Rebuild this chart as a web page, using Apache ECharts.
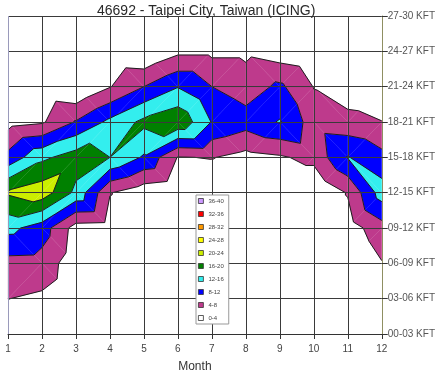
<!DOCTYPE html>
<html>
<head>
<meta charset="utf-8">
<title>46692 - Taipei City, Taiwan (ICING)</title>
<script src="https://cdn.jsdelivr.net/npm/echarts@6/dist/echarts.min.js"></script>
<style>
  html, body { margin: 0; padding: 0; background: #fff; }
  #chart { width: 438px; height: 378px; }
</style>
</head>
<body>
<div id="chart"></div>
<script>
// Months along the x axis
const months = [1, 2, 3, 4, 5, 6, 7, 8, 9, 10, 11, 12];

// Altitude bands along the y axis (bottom to top)
const kftLabels = ['00-03 KFT', '03-06 KFT', '06-09 KFT', '09-12 KFT', '12-15 KFT',
                   '15-18 KFT', '18-21 KFT', '21-24 KFT', '24-27 KFT', '27-30 KFT'];

// Icing frequency (%) for each altitude band, January to December
const kft00_03 = [1.5, 1, 0.5, 0, 0, 0, 0, 0, 0, 0, 0, 0];
const kft03_06 = [4.05, 3.3, 1, 0.5, 0, 0, 0, 0, 0, 0, 0, 0.5];
const kft06_09 = [6.6, 6.4, 1.5, 1, 0.5, 0, 0, 0, 0, 0, 0, 3.8];
const kft09_12 = [13.2, 10, 2.3, 2, 1, 0, 0, 0, 0, 0, 2, 6.4];
const kft12_15 = [20.5, 22.4, 15, 4.2, 1.5, 0.5, 0.3, 0, 0, 0, 4.3, 13.9];
const kft15_18 = [9.3, 15.1, 18, 16, 11.5, 3.8, 4.2, 2.6, 3.5, 5.2, 12.2, 9.2];
const kft18_21 = [2.5, 3.5, 8.3, 13, 17, 19.2, 11.8, 9.7, 12.3, 6, 5.4, 4.1];
const kft21_24 = [0.5, 1, 0, 3.8, 8, 11.8, 8, 6, 8.8, 3.85, 1.5, 1];
const kft24_27 = [0, 0, 0, 0.5, 0, 3.1, 3.1, 3.1, 1.65, 0.5, 0, 0];
const kft27_30 = [0, 0, 0, 0, 0, 0, 0, 0, 0, 0, 0, 0];

// Contour bands shown in the legend (top entry first)
const bandLabels = ['36-40', '32-36', '28-32', '24-28', '20-24', '16-20', '12-16', '8-12', '4-8', '0-4'];
const bandLow    = [36, 32, 28, 24, 20, 16, 12, 8, 4, 0];
const bandHigh   = [40, 36, 32, 28, 24, 20, 16, 12, 8, 4];
const bandColors = ['#cc99ff', '#ff0000', '#ff9900', '#ffff00', '#ccee00',
                    '#008000', '#33eeee', '#0000ff', '#be3a8c', '#ffffff'];
const contourLevels = [4, 8, 12, 16, 20, 24, 28, 32, 36];

const rows = [kft00_03, kft03_06, kft06_09, kft09_12, kft12_15,
              kft15_18, kft18_21, kft21_24, kft24_27, kft27_30];

// One item per grid cell: [month at left edge, band index at bottom edge, month index]
const cells = [];
for (let i = 0; i < months.length - 1; i++) {
  for (let j = 0; j < rows.length - 1; j++) {
    cells.push([months[i], j, i]);
  }
}

// Split a cell into two triangles along the diagonal joining the higher pair
function cellTriangles(i, j) {
  const P = (di, dj) => ({ x: months[i + di], y: j + dj, v: rows[j + dj][i + di] });
  const a = P(0, 0), b = P(1, 0), c = P(1, 1), d = P(0, 1);
  if (a.v + c.v >= b.v + d.v) return [[a, b, c], [a, c, d]];
  return [[a, b, d], [b, c, d]];
}

// Keep the part of a polygon where s(p) >= 0, interpolating linearly on edges
function clipPoly(poly, s) {
  const out = [];
  for (let k = 0; k < poly.length; k++) {
    const p = poly[k], q = poly[(k + 1) % poly.length];
    const sp = s(p), sq = s(q);
    if (sp >= 0) out.push(p);
    if ((sp >= 0) !== (sq >= 0)) {
      const t = sp / (sp - sq);
      out.push({ x: p.x + (q.x - p.x) * t, y: p.y + (q.y - p.y) * t, v: p.v + (q.v - p.v) * t });
    }
  }
  return out;
}

// Filled area of one band inside one cell
function bandRenderer(lo, hi, color) {
  return function (params, api) {
    const i = api.value(2), j = api.value(1);
    const children = [];
    cellTriangles(i, j).forEach(tri => {
      let poly = clipPoly(tri, p => p.v - lo);
      if (poly.length >= 3) poly = clipPoly(poly, p => hi - p.v);
      if (poly.length >= 3) {
        children.push({
          type: 'polygon',
          shape: { points: poly.map(p => api.coord([p.x, p.y])) },
          style: { fill: color, stroke: color, lineWidth: 0.3 }
        });
      }
    });
    return { type: 'group', children: children };
  };
}

// Dark outlines along every contour level inside one cell
function contourLineRenderer(params, api) {
  const i = api.value(2), j = api.value(1);
  const children = [];
  cellTriangles(i, j).forEach(tri => {
    contourLevels.forEach(L => {
      const pts = [];
      for (let k = 0; k < 3; k++) {
        const p = tri[k], q = tri[(k + 1) % 3];
        if ((p.v >= L) !== (q.v >= L)) {
          const t = (L - p.v) / (q.v - p.v);
          pts.push(api.coord([p.x + (q.x - p.x) * t, p.y + (q.y - p.y) * t]));
        }
      }
      if (pts.length === 2) {
        children.push({
          type: 'line',
          shape: { x1: pts[0][0], y1: pts[0][1], x2: pts[1][0], y2: pts[1][1] },
          style: { stroke: '#1c1c1c', lineWidth: 1 }
        });
      }
    });
  });
  return { type: 'group', children: children };
}

const series = bandLabels.map((name, b) => ({
  name: name,
  type: 'custom',
  coordinateSystem: 'cartesian2d',
  encode: { x: 0, y: 1 },
  itemStyle: { color: bandColors[b] },
  data: bandLow[b] > 0 ? cells : [],
  renderItem: bandRenderer(bandLow[b], bandHigh[b], bandColors[b]),
  silent: true,
  z: 2
}));

series.push({
  name: 'contours',
  type: 'custom',
  coordinateSystem: 'cartesian2d',
  encode: { x: 0, y: 1 },
  data: cells,
  renderItem: contourLineRenderer,
  silent: true,
  z: 3
});

const vLineColors = months.map((m, k) => (k === 0 ? '#9a9abb' : '#3a3a3a'));

const chart = echarts.init(document.getElementById('chart'), null, { renderer: 'canvas', width: 438, height: 378 });
chart.setOption({
  animation: false,
  backgroundColor: '#ffffff',
  textStyle: { fontFamily: 'Liberation Sans' },
  title: {
    text: '46692 - Taipei City, Taiwan (ICING)',
    left: 97,
    top: 4,
    padding: 0,
    textStyle: { fontSize: 14, fontWeight: 'normal', color: '#2a2a2a', fontFamily: 'Liberation Sans' }
  },
  grid: { left: 8, right: 56, top: 16, bottom: 41, containLabel: false },
  xAxis: {
    type: 'value',
    min: 1,
    max: 12,
    interval: 1,
    z: 5,
    name: 'Month',
    nameLocation: 'middle',
    nameGap: 27,
    nameTextStyle: { fontSize: 12, color: '#333' },
    axisLine: { show: true, lineStyle: { color: '#333', width: 1 } },
    axisTick: { show: true, length: 5, lineStyle: { color: '#333' } },
    axisLabel: { fontSize: 10, color: '#444', margin: 10 },
    splitLine: { show: true, lineStyle: { color: vLineColors, width: 1 } }
  },
  yAxis: {
    type: 'value',
    position: 'right',
    min: 0,
    max: 9,
    interval: 1,
    z: 5,
    axisLine: { show: true, lineStyle: { color: '#8f8f62', width: 1 } },
    axisTick: { show: true, length: 6, lineStyle: { color: '#333' } },
    axisLabel: { fontSize: 10, color: '#555', margin: 6, formatter: v => kftLabels[v] },
    splitLine: { show: true, lineStyle: { color: '#3a3a3a', width: 1 } }
  },
  legend: {
    data: bandLabels,
    orient: 'vertical',
    left: 196,
    top: 195,
    padding: [3, 5, 3, 2],
    itemWidth: 5,
    itemHeight: 5,
    itemGap: 7,
    icon: 'rect',
    selectedMode: false,
    backgroundColor: '#ffffff',
    borderColor: '#999999',
    borderWidth: 1,
    itemStyle: { borderColor: '#333', borderWidth: 0.8 },
    textStyle: { fontSize: 6, lineHeight: 6, color: '#444' },
    z: 10
  },
  series: series
});
</script>
</body>
</html>
